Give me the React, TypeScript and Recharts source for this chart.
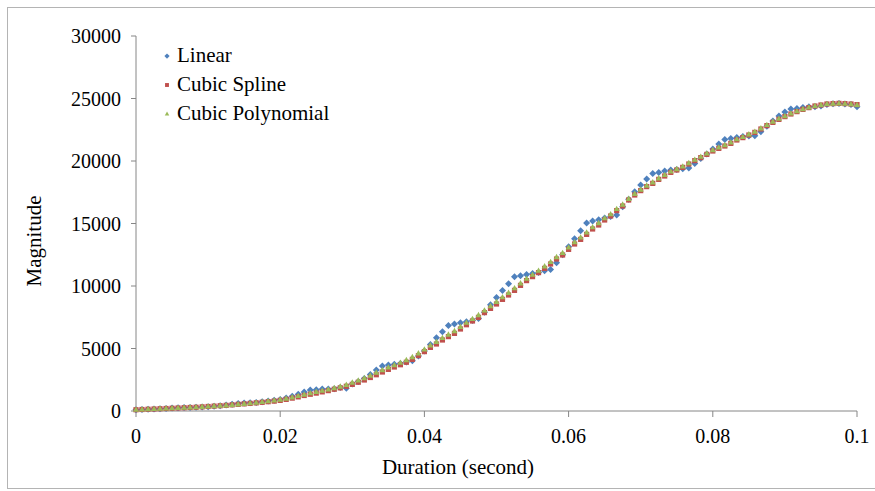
import React from 'react';
import { ScatterChart, Scatter, XAxis, YAxis, Legend, Label } from 'recharts';

const FONT = '"Liberation Serif", "Times New Roman", serif';

// sample times in milliseconds (1200 samples per second)
const timesMs = [
  0, 0.83, 1.67, 2.5, 3.33, 4.17,
  5, 5.83, 6.67, 7.5, 8.33, 9.17,
  10, 10.83, 11.67, 12.5, 13.33, 14.17,
  15, 15.83, 16.67, 17.5, 18.33, 19.17,
  20, 20.83, 21.67, 22.5, 23.33, 24.17,
  25, 25.83, 26.67, 27.5, 28.33, 29.17,
  30, 30.83, 31.67, 32.5, 33.33, 34.17,
  35, 35.83, 36.67, 37.5, 38.33, 39.17,
  40, 40.83, 41.67, 42.5, 43.33, 44.17,
  45, 45.83, 46.67, 47.5, 48.33, 49.17,
  50, 50.83, 51.67, 52.5, 53.33, 54.17,
  55, 55.83, 56.67, 57.5, 58.33, 59.17,
  60, 60.83, 61.67, 62.5, 63.33, 64.17,
  65, 65.83, 66.67, 67.5, 68.33, 69.17,
  70, 70.83, 71.67, 72.5, 73.33, 74.17,
  75, 75.83, 76.67, 77.5, 78.33, 79.17,
  80, 80.83, 81.67, 82.5, 83.33, 84.17,
  85, 85.83, 86.67, 87.5, 88.33, 89.17,
  90, 90.83, 91.67, 92.5, 93.33, 94.17,
  95, 95.83, 96.67, 97.5, 98.33, 99.17,
  100,
];

const linear = [
  110, 130, 150, 170, 190, 210, 240, 270, 280, 290,
  300, 320, 350, 390, 430, 480, 540, 600, 640, 660,
  680, 745, 800, 855, 930, 1040, 1180, 1340, 1520, 1680,
  1710, 1760, 1760, 1790, 1890, 1820, 2160, 2370, 2610, 2930,
  3280, 3600, 3680, 3740, 3810, 3920, 4030, 4400, 4800, 5330,
  5870, 6350, 6850, 6960, 7070, 7150, 7250, 7400, 7900, 8500,
  9090, 9650, 10180, 10750, 10830, 10930, 11010, 11090, 11230, 11330,
  11870, 12500, 13150, 13790, 14430, 15040, 15200, 15310, 15440, 15560,
  15680, 16350, 16950, 17550, 18080, 18560, 19010, 19090, 19200, 19280,
  19330, 19390, 19440, 19810, 20210, 20560, 20960, 21360, 21730, 21810,
  21890, 21960, 22010, 22030, 22350, 22780, 23200, 23600, 23920, 24160,
  24210, 24290, 24350, 24350, 24400, 24530, 24590, 24610, 24570, 24530,
  24350,
];

const cubicSpline = [
  100, 120, 140, 160, 180, 200, 220, 240, 260, 280,
  300, 330, 360, 390, 420, 450, 490, 530, 570, 610,
  650, 695, 745, 790, 850, 930, 1030, 1130, 1240, 1340,
  1430, 1530, 1630, 1740, 1850, 1980, 2130, 2300, 2480, 2680,
  2900, 3120, 3330, 3520, 3700, 3900, 4130, 4430, 4750, 5090,
  5360, 5680, 5950, 6210, 6560, 6900, 7200, 7490, 7870, 8210,
  8560, 8930, 9280, 9650, 10050, 10430, 10750, 11070, 11410, 11760,
  12160, 12480, 12930, 13360, 13730, 14130, 14560, 14880, 15280, 15600,
  16030, 16400, 16880, 17280, 17630, 17950, 18210, 18530, 18800, 19090,
  19280, 19490, 19760, 20030, 20270, 20530, 20800, 21010, 21200, 21410,
  21680, 21870, 22080, 22290, 22560, 22830, 23090, 23330, 23550, 23760,
  23950, 24130, 24270, 24400, 24480, 24560, 24590, 24610, 24590, 24560,
  24510,
];

const cubicPolynomial = [
  110, 130, 150, 170, 190, 210, 230, 250, 270, 290,
  310, 340, 370, 400, 430, 460, 500, 540, 580, 625,
  670, 730, 790, 850, 920, 1000, 1100, 1210, 1320, 1430,
  1540, 1630, 1730, 1840, 1960, 2100, 2280, 2450, 2640, 2840,
  3080, 3280, 3490, 3680, 3870, 4080, 4320, 4620, 4930, 5260,
  5540, 5850, 6120, 6400, 6740, 7070, 7370, 7680, 8050, 8400,
  8740, 9110, 9460, 9830, 10220, 10590, 10910, 11230, 11580, 11930,
  12320, 12650, 13090, 13510, 13890, 14290, 14710, 15040, 15430, 15750,
  16170, 16520, 16980, 17380, 17720, 18040, 18300, 18620, 18890, 19170,
  19360, 19570, 19840, 20110, 20350, 20610, 20880, 21090, 21280, 21490,
  21750, 21930, 22140, 22350, 22620, 22890, 23150, 23390, 23600, 23810,
  23990, 24160, 24290, 24410, 24490, 24570, 24600, 24610, 24590, 24550,
  24490,
];

const xTicks = [0, 0.02, 0.04, 0.06, 0.08, 0.1];
const yTicks = [0, 5000, 10000, 15000, 20000, 25000, 30000];

// marker glyphs drawn around the centre the scatter scale gives us
const marker = (kind: string, cx: number, cy: number, color: string, r: number) => {
  if (kind === 'diamond') {
    const pts = `${cx},${cy - r} ${cx + r},${cy} ${cx},${cy + r} ${cx - r},${cy}`;
    return <polygon points={pts} fill={color} />;
  }
  if (kind === 'square') {
    return <rect x={cx - r} y={cy - r} width={r * 2} height={r * 2} fill={color} />;
  }
  const h = r * 1.8;
  const pts = `${cx},${cy - h * 0.6} ${cx + r},${cy + h * 0.4} ${cx - r},${cy + h * 0.4}`;
  return <polygon points={pts} fill={color} />;
};

const seriesList = [
  { name: 'Linear', values: linear, color: '#4F81BD', shape: 'diamond', r: 3.5 },
  { name: 'Cubic Spline', values: cubicSpline, color: '#C0504D', shape: 'square', r: 2.6 },
  { name: 'Cubic Polynomial', values: cubicPolynomial, color: '#9BBB59', shape: 'triangle', r: 3 },
];

const toPoints = (values: number[]) =>
  timesMs.map((ms, i) => ({ t: ms / 1000, v: values[i] }));

const renderLegend = () => (
  <div style={{ fontFamily: FONT, fontSize: 21, color: '#000' }}>
    {seriesList.map((s) => (
      <div
        key={s.name}
        style={{ display: 'flex', alignItems: 'center', height: 29, whiteSpace: 'nowrap' }}
      >
        <svg width={12} height={12} style={{ marginRight: 4 }}>
          {marker(s.shape, 6, 6, s.color, s.r * 0.75)}
        </svg>
        <span>{s.name}</span>
      </div>
    ))}
  </div>
);

const axisColor = '#868686';

export default function App() {
  return (
    <div
      style={{
        position: 'absolute',
        left: 0,
        top: 0,
        width: 875,
        height: 491,
        overflow: 'hidden',
        background: '#fff',
      }}
    >
      <div
        style={{
          position: 'absolute',
          left: 7,
          top: 7,
          width: 880,
          height: 480,
          border: '1px solid #b4b4b4',
        }}
      />
      <ScatterChart
        width={875}
        height={491}
        margin={{ top: 36, right: 18, bottom: 18, left: 76 }}
      >
        <XAxis
          type="number"
          dataKey="t"
          domain={[0, 0.1]}
          ticks={xTicks}
          tickFormatter={(v) => String(v)}
          height={62}
          tickSize={6}
          tickMargin={12}
          stroke={axisColor}
          tick={{ fill: '#000', fontSize: 20, fontFamily: FONT }}
        >
          <Label
            content={() => (
              <text x={458} y={474} textAnchor="middle" fontFamily={FONT} fontSize={21} fill="#000">
                Duration (second)
              </text>
            )}
          />
        </XAxis>
        <YAxis
          type="number"
          dataKey="v"
          domain={[0, 30000]}
          ticks={yTicks}
          width={60}
          tickSize={5}
          tickMargin={10}
          stroke={axisColor}
          tick={{ fill: '#000', fontSize: 20, fontFamily: FONT }}
        >
          <Label
            content={() => (
              <text
                x={0}
                y={0}
                transform="translate(41,241) rotate(-90)"
                textAnchor="middle"
                fontFamily={FONT}
                fontSize={21}
                fill="#000"
              >
                Magnitude
              </text>
            )}
          />
        </YAxis>
        <Legend
          layout="vertical"
          align="center"
          verticalAlign="middle"
          wrapperStyle={{ left: 161, top: 41, width: 'auto' }}
          content={renderLegend}
        />
        {seriesList.map((s) => (
          <Scatter
            key={s.name}
            name={s.name}
            data={toPoints(s.values)}
            fill={s.color}
            shape={(p: any) => marker(s.shape, p.cx, p.cy, s.color, s.r)}
            isAnimationActive={false}
          />
        ))}
      </ScatterChart>
    </div>
  );
}
